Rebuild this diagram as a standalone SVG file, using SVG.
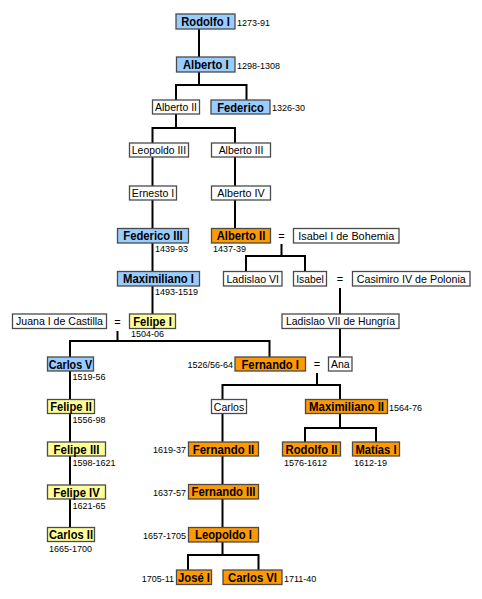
<svg xmlns="http://www.w3.org/2000/svg" width="482" height="599" viewBox="0 0 482 599">
<style>
rect{stroke:#4a4a4a;stroke-width:1.3}
.b{fill:#99CCFF}.y{fill:#FFFF99}.o{fill:#FF9900}.w{fill:#FFFFFF}
text{font-family:"Liberation Sans",Arial,sans-serif;fill:#000}
.n{font-size:12.5px;font-weight:bold;text-anchor:middle}
.t{font-size:11.3px;text-anchor:middle}
.d{font-size:9px}
.r{text-anchor:end}
.e{font-size:11px;text-anchor:middle}
#connectors path{stroke:#000;stroke-width:2;fill:none}
</style>
<rect width="482" height="599" fill="#fff" style="stroke:none"/>
<g id="connectors">
<path d="M199,29V57"/>
<path d="M199,72V85M176,100V85H246.5V100"/>
<path d="M176,114V128M152.5,143V128H235V143"/>
<path d="M152.5,157V186M235,157V186"/>
<path d="M152.5,200V228.5M235,200V228.5"/>
<path d="M152.5,243V271.5M152.5,286V314"/>
<path d="M281.5,244V256M246,271.5V256H305V271.5"/>
<path d="M340,288V314M340,328V357"/>
<path d="M117.5,331V341M70,357V341H269.5V357"/>
<path d="M70,371V399.5M70,413.5V442M70,456V485M70,499V527.5"/>
<path d="M317,373V385M222.5,399.5V385H340V399.5"/>
<path d="M222.5,413.5V442M222.5,456V484.5M222.5,499V527.5"/>
<path d="M222.5,542V555M188,570V555H258.5V570"/>
<path d="M340,413.5V428M305,442V428H376V442"/>
</g>
<g id="rodolfo1"><rect class="b" x="176" y="14" width="59" height="15"/><text class="n" x="205.5" y="26.3" textLength="48.5" lengthAdjust="spacingAndGlyphs">Rodolfo I</text><text class="d" x="237" y="25.5">1273-91</text></g>
<g id="alberto1"><rect class="b" x="176.5" y="57" width="58.5" height="15"/><text class="n" x="205.75" y="69.3" textLength="45.5" lengthAdjust="spacingAndGlyphs">Alberto I</text><text class="d" x="237" y="68.5">1298-1308</text></g>
<g id="alberto2a"><rect class="w" x="152.5" y="100" width="47" height="14"/><text class="t" x="176" y="111" textLength="42" lengthAdjust="spacingAndGlyphs">Alberto II</text></g>
<g id="federico"><rect class="b" x="211" y="100" width="59" height="14"/><text class="n" x="240.5" y="111.6" textLength="46.5" lengthAdjust="spacingAndGlyphs">Federico</text><text class="d" x="272" y="111">1326-30</text></g>
<g id="leopoldo3"><rect class="w" x="129.5" y="143" width="59" height="14"/><text class="t" x="159" y="154" textLength="54.3" lengthAdjust="spacingAndGlyphs">Leopoldo III</text></g>
<g id="alberto3"><rect class="w" x="211.5" y="143" width="59" height="14"/><text class="t" x="241" y="154" textLength="44.7" lengthAdjust="spacingAndGlyphs">Alberto III</text></g>
<g id="ernesto1"><rect class="w" x="129.5" y="186" width="47" height="14"/><text class="t" x="153" y="197" textLength="42.3" lengthAdjust="spacingAndGlyphs">Ernesto I</text></g>
<g id="alberto4"><rect class="w" x="211.5" y="186" width="59" height="14"/><text class="t" x="241" y="197" textLength="47.3" lengthAdjust="spacingAndGlyphs">Alberto IV</text></g>
<g id="federico3"><rect class="b" x="117.5" y="228.5" width="71" height="14.5"/><text class="n" x="153" y="240.4" textLength="59.5" lengthAdjust="spacingAndGlyphs">Federico III</text><text class="d" x="155" y="252">1439-93</text></g>
<g id="alberto2b"><rect class="o" x="211.5" y="228.5" width="59" height="14.5"/><text class="n" x="241" y="240.4" textLength="48.5" lengthAdjust="spacingAndGlyphs">Alberto II</text><text class="d" x="213" y="252">1437-39</text></g>
<g id="eq1"><text class="e" x="281.5" y="240">=</text></g>
<g id="isabelbohemia"><rect class="w" x="293.5" y="228.5" width="105.5" height="14.5"/><text class="t" x="346.25" y="239.8" textLength="96" lengthAdjust="spacingAndGlyphs">Isabel I de Bohemia</text></g>
<g id="maximiliano1"><rect class="b" x="117.5" y="271.5" width="82" height="14.5"/><text class="n" x="158.5" y="283.4" textLength="71" lengthAdjust="spacingAndGlyphs">Maximiliano I</text><text class="d" x="155" y="295">1493-1519</text></g>
<g id="ladislao6"><rect class="w" x="223.5" y="271.5" width="58.5" height="14.5"/><text class="t" x="252.75" y="282.8" textLength="52.7" lengthAdjust="spacingAndGlyphs">Ladislao VI</text></g>
<g id="isabel"><rect class="w" x="293.5" y="271.5" width="33" height="14.5"/><text class="t" x="310" y="282.8" textLength="27.5" lengthAdjust="spacingAndGlyphs">Isabel</text></g>
<g id="eq2"><text class="e" x="340" y="283">=</text></g>
<g id="casimiro4"><rect class="w" x="352.5" y="271.5" width="117.5" height="14.5"/><text class="t" x="411.25" y="282.8" textLength="109" lengthAdjust="spacingAndGlyphs">Casimiro IV de Polonia</text></g>
<g id="ladislao7"><rect class="w" x="282" y="314" width="117" height="14.5"/><text class="t" x="340.5" y="325.3" textLength="109" lengthAdjust="spacingAndGlyphs">Ladislao VII de Hungría</text></g>
<g id="juana1"><rect class="w" x="12.5" y="314" width="94" height="14.5"/><text class="t" x="59.5" y="325.3" textLength="87" lengthAdjust="spacingAndGlyphs">Juana I de Castilla</text></g>
<g id="eq3"><text class="e" x="117.5" y="325.5">=</text></g>
<g id="felipe1"><rect class="y" x="129.5" y="314" width="46" height="14.5"/><text class="n" x="152.5" y="325.9" textLength="38.5" lengthAdjust="spacingAndGlyphs">Felipe I</text><text class="d" x="131" y="337">1504-06</text></g>
<g id="carlos5"><rect class="b" x="47.5" y="357" width="46" height="14"/><text class="n" x="70.5" y="368.6" textLength="43.5" lengthAdjust="spacingAndGlyphs">Carlos V</text><text class="d" x="72.5" y="380">1519-56</text></g>
<g id="fernando1"><rect class="o" x="235" y="357" width="70.5" height="14"/><text class="n" x="270.25" y="368.6" textLength="57.5" lengthAdjust="spacingAndGlyphs">Fernando I</text><text class="d r" x="233" y="368">1526/56-64</text></g>
<g id="eq4"><text class="e" x="317" y="368">=</text></g>
<g id="ana"><rect class="w" x="328.5" y="357" width="23.5" height="14"/><text class="t" x="340.25" y="368" textLength="18.7" lengthAdjust="spacingAndGlyphs">Ana</text></g>
<g id="felipe2"><rect class="y" x="47.5" y="399.5" width="47" height="14"/><text class="n" x="71" y="411.1" textLength="41.5" lengthAdjust="spacingAndGlyphs">Felipe II</text><text class="d" x="72.5" y="423">1556-98</text></g>
<g id="carlos"><rect class="w" x="211.5" y="399.5" width="35" height="14"/><text class="t" x="229" y="410.5" textLength="30.3" lengthAdjust="spacingAndGlyphs">Carlos</text></g>
<g id="maximiliano2"><rect class="o" x="305.5" y="399.5" width="82" height="14"/><text class="n" x="346.5" y="411.1" textLength="75" lengthAdjust="spacingAndGlyphs">Maximiliano II</text><text class="d" x="389" y="410.5">1564-76</text></g>
<g id="felipe3"><rect class="y" x="47.5" y="442" width="58" height="14"/><text class="n" x="76.5" y="453.6" textLength="46" lengthAdjust="spacingAndGlyphs">Felipe III</text><text class="d" x="72.5" y="466">1598-1621</text></g>
<g id="fernando2"><rect class="o" x="188.5" y="442" width="70" height="14"/><text class="n" x="223.5" y="453.6" textLength="61.5" lengthAdjust="spacingAndGlyphs">Fernando II</text><text class="d r" x="186" y="453">1619-37</text></g>
<g id="rodolfo2"><rect class="o" x="282.5" y="442" width="58" height="14"/><text class="n" x="311.5" y="453.6" textLength="52" lengthAdjust="spacingAndGlyphs">Rodolfo II</text><text class="d" x="284" y="465.5">1576-1612</text></g>
<g id="matias1"><rect class="o" x="352.5" y="442" width="47" height="14"/><text class="n" x="376" y="453.6" textLength="41" lengthAdjust="spacingAndGlyphs">Matías I</text><text class="d" x="354" y="465.5">1612-19</text></g>
<g id="felipe4"><rect class="y" x="47.5" y="485" width="58" height="14"/><text class="n" x="76.5" y="496.6" textLength="46.5" lengthAdjust="spacingAndGlyphs">Felipe IV</text><text class="d" x="72.5" y="508.5">1621-65</text></g>
<g id="fernando3"><rect class="o" x="188.5" y="484.5" width="70" height="14.5"/><text class="n" x="223.5" y="496.4" textLength="64" lengthAdjust="spacingAndGlyphs">Fernando III</text><text class="d r" x="186" y="496">1637-57</text></g>
<g id="carlos2"><rect class="y" x="47.5" y="527.5" width="47" height="14"/><text class="n" x="71" y="539.1" textLength="44" lengthAdjust="spacingAndGlyphs">Carlos II</text><text class="d" x="49" y="552">1665-1700</text></g>
<g id="leopoldo1"><rect class="o" x="188.5" y="527.5" width="70" height="14.5"/><text class="n" x="223.5" y="539.4" textLength="57" lengthAdjust="spacingAndGlyphs">Leopoldo I</text><text class="d r" x="186" y="539">1657-1705</text></g>
<g id="jose1"><rect class="o" x="176.5" y="570" width="35" height="14.5"/><text class="n" x="194" y="581.9" textLength="32" lengthAdjust="spacingAndGlyphs">José I</text><text class="d r" x="174" y="581.5">1705-11</text></g>
<g id="carlos6"><rect class="o" x="223" y="570" width="59" height="14.5"/><text class="n" x="252.5" y="581.9" textLength="49" lengthAdjust="spacingAndGlyphs">Carlos VI</text><text class="d" x="284" y="581.5">1711-40</text></g>
</svg>
